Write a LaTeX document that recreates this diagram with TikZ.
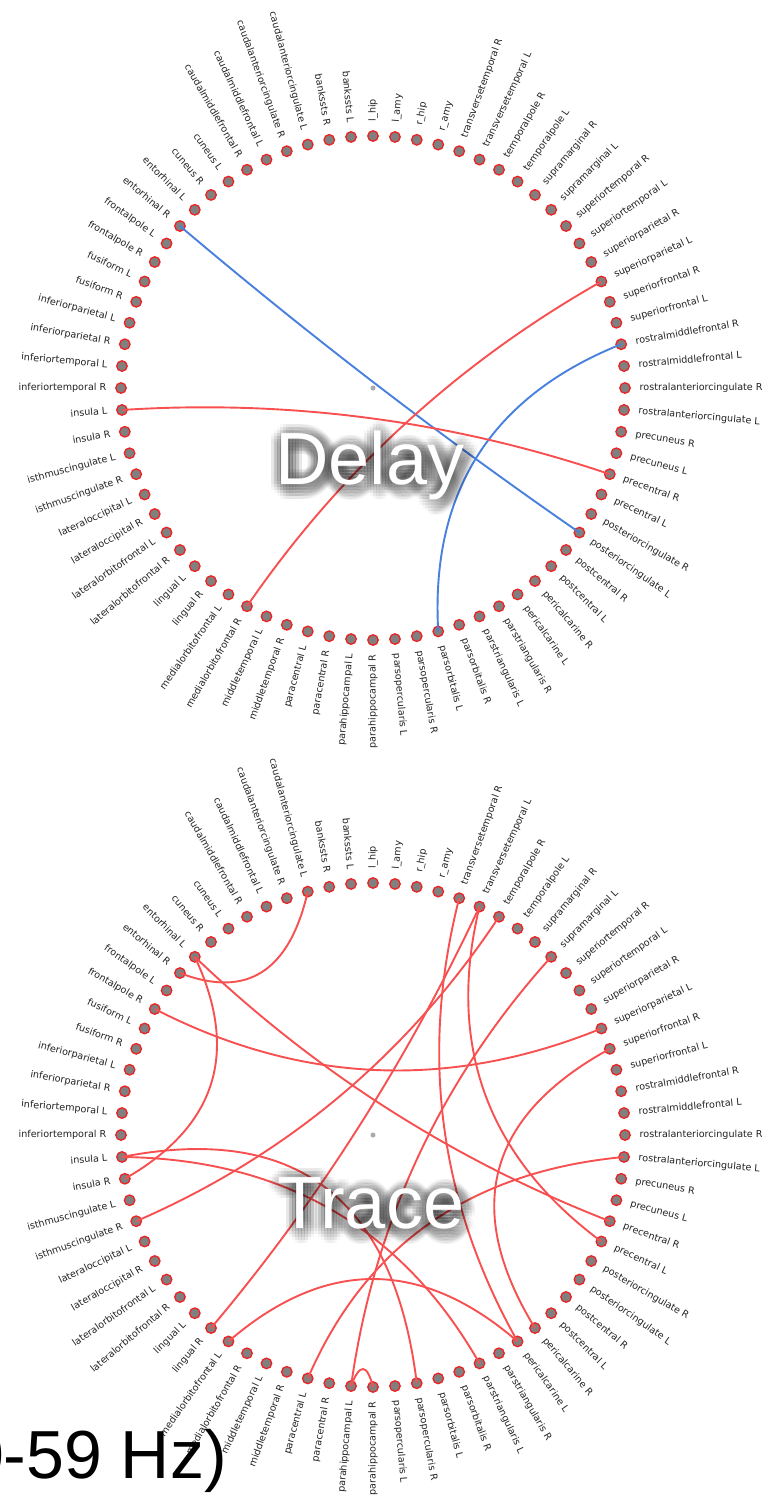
\documentclass[tikz,border=0pt]{standalone}
\usepackage{fontspec}
\setmainfont{DejaVu Sans}
\newfontfamily\bigfont{Liberation Sans}
\usetikzlibrary{calc}

\definecolor{nodefill}{RGB}{128,128,128}
\definecolor{nodered}{RGB}{238,34,34}
\definecolor{chordred}{RGB}{248,80,80}
\definecolor{chordblue}{RGB}{72,128,222}
\definecolor{lblcol}{RGB}{35,35,35}
\definecolor{ctrgray}{RGB}{170,170,170}

\tikzset{
  dotnode/.style={circle, draw=nodered, fill=nodefill, line width=1.3pt, minimum size=10.5pt, inner sep=0pt},
  lbl/.style={font=\fontsize{9.6}{9.6}\selectfont, text=lblcol, inner sep=0pt},
  redchord/.style={draw=chordred, line width=1.9pt},
  bluechord/.style={draw=chordblue, line width=1.9pt},
  bigtxt/.style={font=\bigfont\fontsize{74}{74}\selectfont, inner sep=0pt, anchor=base},
  ctrdot/.style={circle, fill=ctrgray, minimum size=5pt, inner sep=0pt},
  hztxt/.style={font=\bigfont\fontsize{68}{68}\selectfont, inner sep=0pt, anchor=base east, text=black}
}

\def\regionlist{l\_hip,l\_amy,r\_hip,r\_amy,transversetemporal R,transversetemporal L,temporalpole R,temporalpole L,supramarginal R,supramarginal L,superiortemporal R,superiortemporal L,superiorparietal R,superiorparietal L,superiorfrontal R,superiorfrontal L,rostralmiddlefrontal R,rostralmiddlefrontal L,rostralanteriorcingulate R,rostralanteriorcingulate L,precuneus R,precuneus L,precentral R,precentral L,posteriorcingulate R,posteriorcingulate L,postcentral R,postcentral L,pericalcarine R,pericalcarine L,parstriangularis R,parstriangularis L,parsorbitalis R,parsorbitalis L,parsopercularis R,parsopercularis L,parahippocampal R,parahippocampal L,paracentral R,paracentral L,middletemporal R,middletemporal L,medialorbitofrontal R,medialorbitofrontal L,lingual R,lingual L,lateralorbitofrontal R,lateralorbitofrontal L,lateraloccipital R,lateraloccipital L,isthmuscingulate R,isthmuscingulate L,insula R,insula L,inferiortemporal R,inferiortemporal L,inferiorparietal R,inferiorparietal L,fusiform R,fusiform L,frontalpole R,frontalpole L,entorhinal R,entorhinal L,cuneus R,cuneus L,caudalmiddlefrontal R,caudalmiddlefrontal L,caudalanteriorcingulate R,caudalanteriorcingulate L,bankssts R,bankssts L}

\newcommand\drawring[2]{%
  \foreach \n [count=\i] in \regionlist {
    \pgfmathsetmacro\ang{90-5*(\i-1)}
    \node[dotnode] (#1\i) at ({373+252*cos(\ang)},{#2-252*sin(\ang)}) {};
    \ifnum\i<37
      \node[lbl, anchor=mid west, rotate=\ang] (#1l\i) at ({373+266.5*cos(\ang)},{#2-266.5*sin(\ang)}) {\n};
    \else
      \node[lbl, anchor=mid east, rotate=\ang+180] (#1l\i) at ({373+266.5*cos(\ang)},{#2-266.5*sin(\ang)}) {\n};
    \fi
  }
  \node[ctrdot] (#1c) at (373,#2) {};
}

\newcommand\chord[4]{%
  \coordinate (cc) at ($2*(#4)-0.5*(#2.center)-0.5*(#3.center)$);
  \draw[#1] (#2.center) .. controls ($(#2.center)!0.6667!(cc)$) and ($(#3.center)!0.6667!(cc)$) .. (#3.center);
}

% soft grey glow behind the big white words
\newcommand\glowlabel[4]{%
  \foreach \dx in {-12,-9,...,12}{\foreach \dy in {-12,-9,...,12}{
    \pgfmathtruncatemacro\inside{(\dx*\dx+\dy*\dy)<=160 ? 1 : 0}
    \ifnum\inside=1
      \node[bigtxt, text=black, opacity=0.03] at ({#2+\dx+2},{#3+\dy+3}) {#4};
    \fi
  }}
  \node[bigtxt, text=white] (#1) at (#2,#3) {#4};
}

\begin{document}
\begin{tikzpicture}[x=1pt,y=-1pt]
\useasboundingbox (0,0) rectangle (769,1500);
\fill[white] (0,0) rectangle (769,1500);

% ---------- top ring: Delay ----------
\drawring{t}{388}
\chord{bluechord}{t63}{t26}{377,385}
\chord{bluechord}{t17}{t34}{478,455}
\chord{redchord}{t14}{t43}{405.5,423.4}
\chord{redchord}{t54}{t23}{369,418}
\glowlabel{delay}{370}{484}{Delay}

% ---------- bottom ring: Trace ----------
\drawring{b}{1135}
\chord{redchord}{b70}{b63}{262,972}
\chord{redchord}{b64}{b53}{211,1084}
\chord{redchord}{b64}{b23}{389,1109.5}
\chord{redchord}{b61}{b14}{375.8,1070}
\chord{redchord}{b54}{b35}{326,1188}
\chord{redchord}{b54}{b32}{332,1210}
\chord{redchord}{b51}{b7}{340,1096}
\chord{redchord}{b45}{b6}{358,1128}
\chord{redchord}{b44}{b30}{373,1279}
\chord{redchord}{b40}{b20}{430,1223}
\chord{redchord}{b38}{b37}{363,1369}
\chord{redchord}{b38}{b10}{418.4,1156}
\chord{redchord}{b6}{b24}{485,1094}
\chord{redchord}{b5}{b30}{444,1126}
\chord{redchord}{b15}{b29}{499,1169}
\glowlabel{trace}{371}{1228}{Trace}

\node[hztxt] (hz) at (227,1478) {(30-59 Hz)};
\end{tikzpicture}
\end{document}
